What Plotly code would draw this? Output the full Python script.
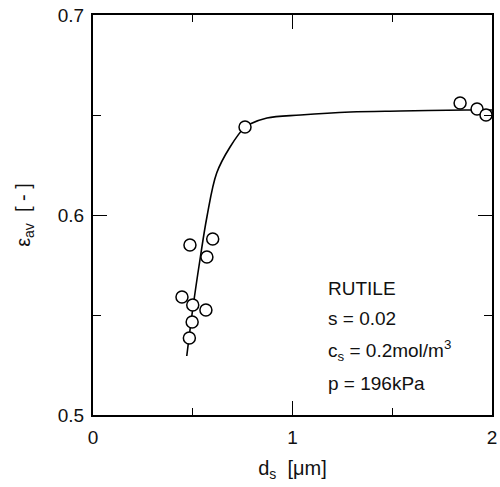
import plotly.graph_objects as go

# measured data points (d_s [um], eps_av [-])
ds_points = [0.483, 0.497, 0.500, 0.446, 0.566, 0.571, 0.486, 0.600, 0.762, 1.84, 1.925, 1.97]
eps_points = [0.5385, 0.5465, 0.555, 0.559, 0.5525, 0.579, 0.585, 0.588, 0.644, 0.656, 0.653, 0.650]

# fitted curve
ds_curve = [0.47, 0.50, 0.536, 0.571, 0.62, 0.687, 0.762, 0.787, 0.872, 1.04, 1.29, 1.54, 1.87, 2.0]
eps_curve = [0.5295, 0.553, 0.5775, 0.599, 0.621, 0.634, 0.644, 0.6455, 0.6485, 0.650, 0.6515, 0.652, 0.6525, 0.6525]

ann_texts = ["RUTILE", "s = 0.02", "c<sub>s</sub> = 0.2mol/m<sup>3</sup>", "p = 196kPa"]
ann_y = [0.5635, 0.5485, 0.5325, 0.516]
ann_x = 1.17

FONT = "Liberation Sans, Arial, sans-serif"
TXT = "#111"

fig = go.Figure()
fig.add_trace(go.Scatter(x=ds_curve, y=eps_curve, mode="lines",
                         line=dict(color="black", width=1.6, shape="spline"),
                         showlegend=False, hoverinfo="skip"))
fig.add_trace(go.Scatter(x=ds_points, y=eps_points, mode="markers",
                         marker=dict(symbol="circle", size=12, color="white",
                                     line=dict(color="black", width=1.5)),
                         showlegend=False))

for t, y in zip(ann_texts, ann_y):
    fig.add_annotation(x=ann_x, y=y, text=t, showarrow=False, xanchor="left",
                       yanchor="middle", font=dict(size=19, color=TXT, family=FONT))

axis_common = dict(showline=True, linecolor="black", linewidth=2, mirror="ticks",
                   ticks="inside", tickcolor="black", tickwidth=1.3, ticklen=14,
                   showgrid=False, zeroline=False, automargin=False,
                   ticklabeloverflow="allow",
                   tickfont=dict(size=19, color=TXT, family=FONT))

fig.update_xaxes(range=[0, 2], tickvals=[0, 1, 2], ticktext=["0", "1", "2"],
                 minor=dict(tickvals=[0.5, 1.5], ticks="inside", ticklen=7,
                            tickcolor="black", tickwidth=1.3),
                 ticklabelstandoff=4,
                 title=dict(text="d<sub>s</sub>  [μm]", font=dict(size=20, color=TXT, family=FONT),
                            standoff=14),
                 **axis_common)
fig.update_yaxes(range=[0.5, 0.7], tickvals=[0.5, 0.6, 0.7], ticktext=["0.5", "0.6", "0.7"],
                 minor=dict(tickvals=[0.55, 0.65], ticks="inside", ticklen=8,
                            tickcolor="black", tickwidth=1.3),
                 ticklabelstandoff=3,
                 title=dict(text="ε<sub>av</sub>  [ - ]", font=dict(size=20, color=TXT, family=FONT),
                            standoff=22),
                 **axis_common)

fig.update_layout(width=500, height=487, margin=dict(l=93, r=8, t=15, b=72),
                  plot_bgcolor="white", paper_bgcolor="white")

# remove the default page body margin so the figure fills the window exactly
fig.write_html("out.html", config={"displayModeBar": False},
               post_script="document.body.style.margin='0';document.body.style.overflow='hidden';")
